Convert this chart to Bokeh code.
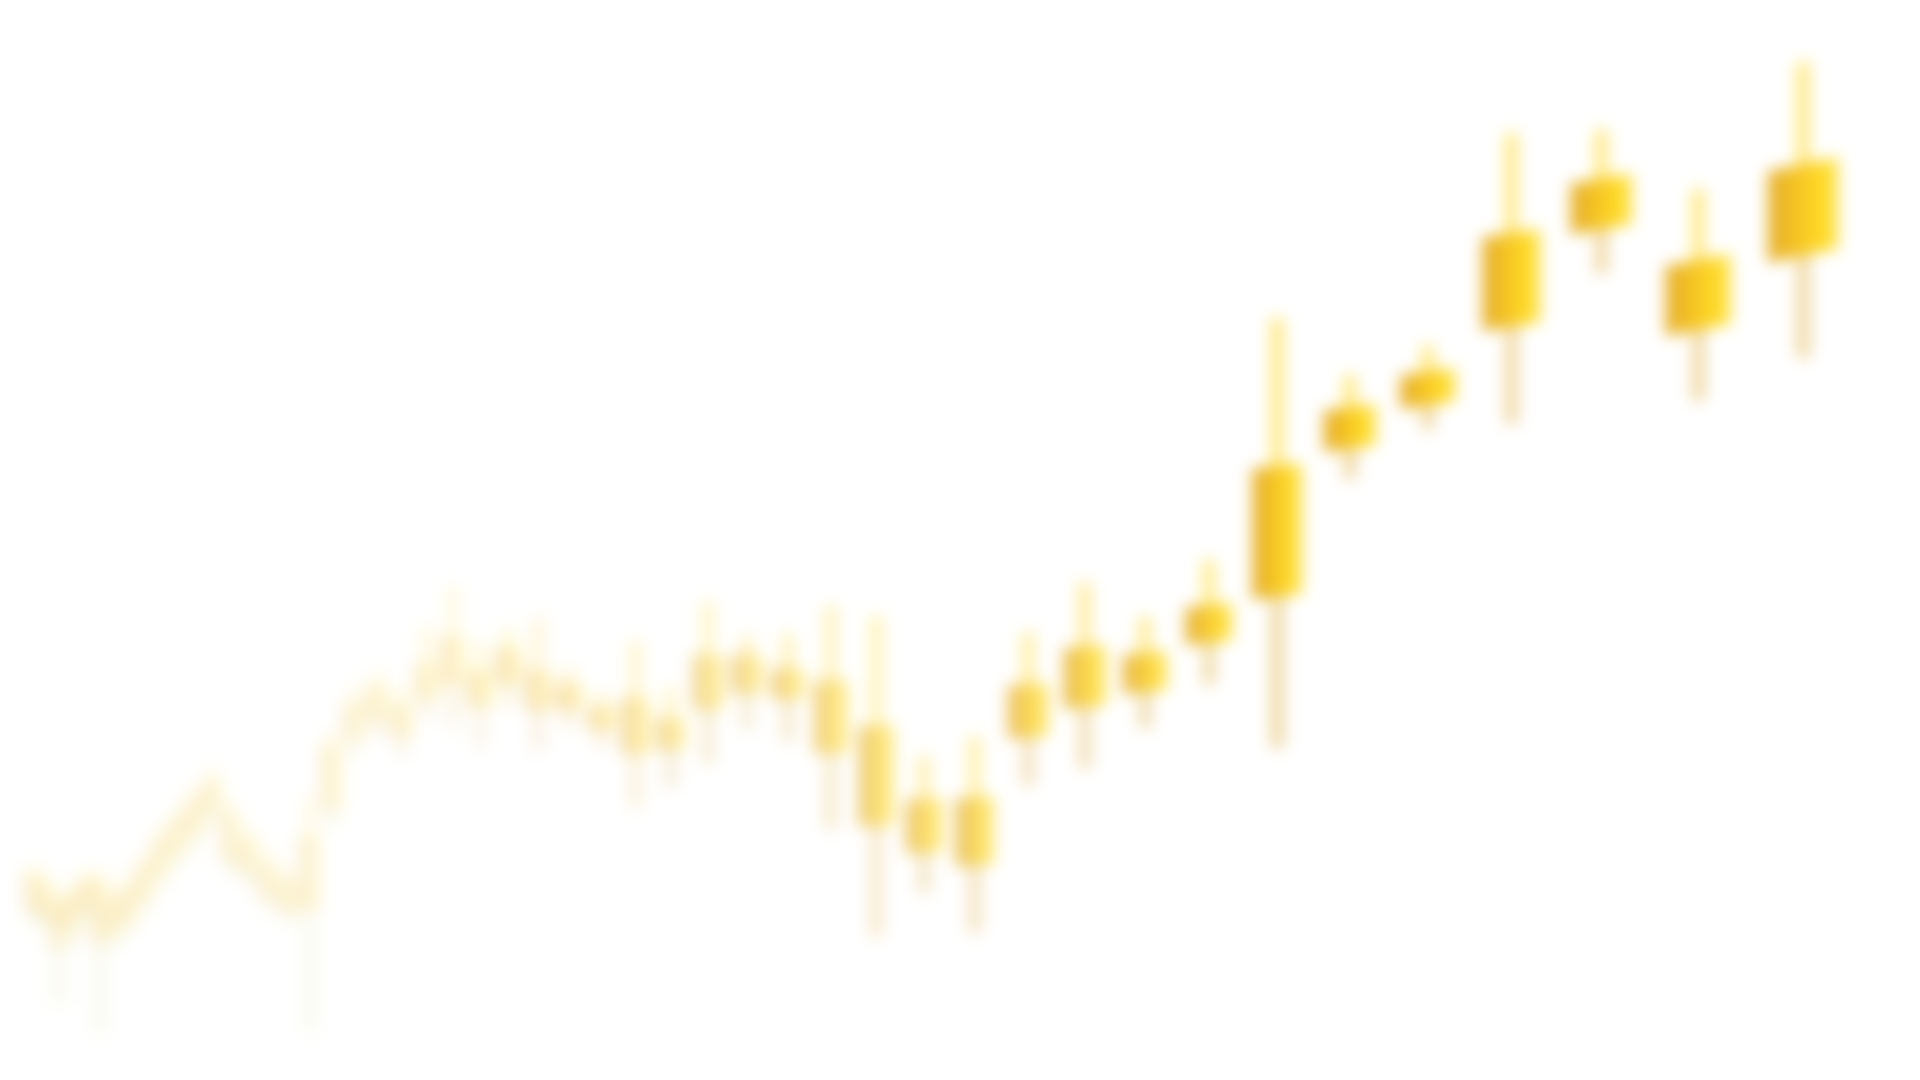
import numpy as np
from bokeh.plotting import figure
from bokeh.models import ColumnDataSource, Range1d
from bokeh.embed import file_html
from bokeh.resources import INLINE

# OHLC values, oldest (far left) to newest (right)
opens = [17.0, 17.8, 15.8, 15.0, 16.8, 18.2, 16.2, 15.8, 18.0, 20.4,
         22.4, 24.4, 26.6, 25.0, 22.5, 20.0, 18.4, 16.8, 26.8, 33.8,
         35.8, 36.2, 37.7, 39.3, 39.7, 39.3, 39.7, 38.3, 36.0, 37.0,
         35.0, 36.7, 38.3, 40.0, 38.8, 34.3, 27.0, 27.2, 33.8, 36.8,
         38.3, 43.2, 47.8, 62.6, 66.9, 74.7, 84.4, 81.2, 81.7]
closes = [19.0, 16.2, 13.2, 16.8, 18.4, 13.6, 14.6, 17.7, 20.0, 22.5,
          24.5, 26.5, 28.4, 21.8, 20.4, 18.0, 16.6, 23.0, 32.0, 36.2,
          38.0, 34.0, 40.3, 43.0, 37.0, 42.0, 36.7, 36.8, 34.7, 32.3,
          32.7, 41.3, 41.3, 37.7, 32.3, 25.0, 22.3, 21.0, 38.5, 42.3,
          41.7, 46.5, 60.4, 66.3, 69.9, 83.8, 89.3, 74.3, 90.8]
highs = [20.0, 19.0, 17.0, 18.0, 19.5, 19.5, 17.5, 19.0, 21.2, 23.8,
         25.8, 28.0, 29.8, 26.5, 23.8, 21.4, 19.8, 26.8, 33.5, 38.0,
         39.6, 38.0, 44.0, 48.0, 42.5, 44.0, 45.0, 40.0, 37.5, 42.7,
         38.0, 46.7, 43.3, 43.5, 46.3, 45.3, 31.3, 33.3, 43.7, 48.7,
         45.3, 51.0, 75.2, 69.5, 72.5, 93.8, 94.2, 88.3, 101.0]
lows = [15.5, 15.0, 7.5, 13.5, 15.5, 4.7, 13.0, 14.5, 16.8, 19.2,
        21.2, 23.0, 25.2, 20.5, 19.0, 16.6, 15.2, 4.7, 25.0, 32.0,
        34.2, 32.2, 36.0, 35.0, 33.0, 37.0, 32.7, 35.0, 33.0, 27.0,
        29.0, 31.3, 34.7, 33.5, 24.7, 14.0, 18.3, 14.3, 29.0, 30.7,
        34.7, 39.0, 32.7, 59.6, 64.5, 65.0, 80.0, 67.2, 71.5]

n = len(opens)
o = np.array(opens)
c = np.array(closes)
top = np.maximum(o, c)
bot = np.minimum(o, c)
hi = np.array(highs)
lo = np.array(lows)

PX = 10.0  # screen px per price unit

# camera: the series recedes into depth towards the left
VANISH_X, FOCAL, DEPTH0 = -863.0, 65508.0, 24.5
depth = DEPTH0 + (n - 1 - np.arange(n))
xc = VANISH_X + FOCAL / depth
step = FOCAL / depth ** 2
half_w = 0.32 * step
wick_w = np.maximum(0.11 * step, 2.0)
alpha = np.clip((xc / 1300.0) ** 1.3, 0.2, 0.99)
slant = 0.2 / PX * np.clip((xc - 700.0) / 1100.0, 0.0, 1.0)

# depth of field: far candles are softer
tpos = (xc - xc[0]) / (xc[-1] - xc[0])
blur = 11.0 * (1.0 - tpos) ** 1.1
LAYERS = 6
beta = 1.0 - (1.0 - alpha) ** (1.0 / LAYERS)

# golden gradient across each body, left to right
stops = [(0.0, (226, 170, 44)), (0.45, (246, 199, 34)),
         (0.8, (255, 218, 36)), (1.0, (255, 232, 90))]


def grad(t):
    for (t0, c0), (t1, c1) in zip(stops[:-1], stops[1:]):
        if t <= t1:
            f = (t - t0) / (t1 - t0)
            rgb = [round(a + (b - a) * f) for a, b in zip(c0, c1)]
            return "#%02x%02x%02x" % tuple(rgb)
    return "#%02x%02x%02x" % stops[-1][1]


strips = 8
bx, by, bcol, balpha = [], [], [], []
wx, wy0, wy1, ww, wa, wc = [], [], [], [], [], []
for layer in range(LAYERS):
    spread = (LAYERS - 1 - layer) / (LAYERS - 1)
    for i in range(n):
        e = blur[i] * spread
        left = xc[i] - half_w[i]
        width = 2 * half_w[i]
        for k in range(strips):
            x0 = left + width * k / strips - (e if k == 0 else 0.0)
            x1 = left + width * (k + 1) / strips + (e if k == strips - 1 else 0.0)
            d0 = slant[i] * (x0 - xc[i])
            d1 = slant[i] * (x1 - xc[i])
            bx.append([x0, x1, x1, x0])
            by.append([bot[i] - e / PX + d0, bot[i] - e / PX + d1,
                       top[i] + e / PX + d1, top[i] + e / PX + d0])
            bcol.append(grad((k + 0.5) / strips))
            balpha.append(beta[i])
        # upper and lower wick
        for y0, y1, col in ((top[i], hi[i] + e / PX, "#ffe77a"),
                            (bot[i], lo[i] - e / PX, "#eed59c")):
            wx.append(xc[i])
            wy0.append(y0)
            wy1.append(y1)
            ww.append(wick_w[i] + 2 * e)
            wa.append(beta[i])
            wc.append(col)

wicks = ColumnDataSource(dict(x=wx, y0=wy0, y1=wy1, w=ww, a=wa, color=wc))
bodies = ColumnDataSource(dict(xs=bx, ys=by, color=bcol, a=balpha))

p = figure(width=1904, height=1064,
           x_range=Range1d(8, 1912), y_range=Range1d(8 / PX, 1072 / PX),
           toolbar_location=None, output_backend="svg",
           x_axis_location=None, y_axis_location=None,
           min_border=0, outline_line_color=None,
           styles={"filter": "blur(8px)"})
p.grid.visible = False
p.background_fill_color = "white"
p.border_fill_color = "white"

p.segment(x0="x", y0="y0", x1="x", y1="y1", source=wicks,
          line_width="w", line_color="color", line_alpha="a")
p.patches(xs="xs", ys="ys", source=bodies, fill_color="color",
          fill_alpha="a", line_color=None)

open("out.html", "w").write(file_html(p, INLINE))
